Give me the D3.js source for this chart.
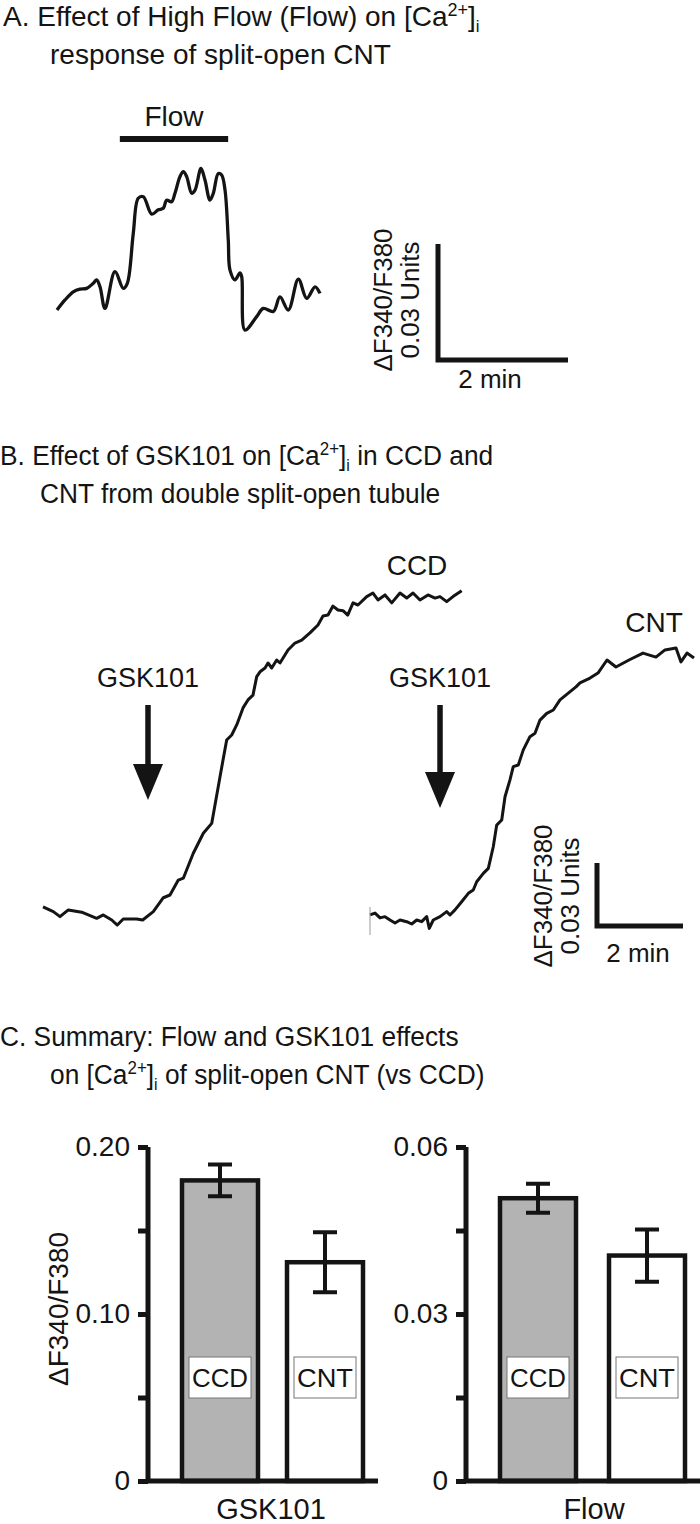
<!DOCTYPE html>
<html>
<head>
<meta charset="utf-8">
<script src="https://cdn.jsdelivr.net/npm/d3@7"></script>
<style>
  body { margin: 0; background: #fff; }
  svg { display: block; font-family: "Liberation Sans", Arial, sans-serif; }
</style>
</head>
<body>
<svg id="fig" width="700" height="1524"></svg>
<script>
// ---- data ----
// Panel A: flow trace, time (s) vs change in F340/F380
var flowTime = [0, 7.4, 15, 21.2, 27.4, 33.5, 36.6, 39.7, 44.3, 53.5, 61.2, 64.9, 70.4, 75, 79.7, 87.4, 93.5, 98.1, 101.2, 105.8,
  108.9, 113.5, 116.6, 119.7, 124.3, 127.4, 132.9, 136.6, 141.2, 144.3, 148.9, 152, 155.1, 158.1, 159.7, 164.3, 168.9, 170.5,
  173.5, 184.3, 190.4, 199.7, 205.8, 213.5, 222.8, 230.5, 238.2, 242.8];
var flowRatio = [0, 0.0026, 0.0047, 0.0054, 0.0056, 0.0069, 0.0078, 0.0060, 0.0004, 0.0099, 0.0056, 0.0069, 0.0198, 0.0289, 0.0293,
  0.0248, 0.0259, 0.0263, 0.0284, 0.0280, 0.0302, 0.0345, 0.0358, 0.0345, 0.0302, 0.0310, 0.0366, 0.0336, 0.0284, 0.0302, 0.0353,
  0.0349, 0.0310, 0.0181, 0.0103, 0.0078, 0.0096, 0.0086, -0.0052, -0.0017, 0.0004, -0.0004, 0.0034, 0.0, 0.0080, 0.0030, 0.0060, 0.0043];
var flowOn = [58, 158];

// Panel B: GSK101 traces
var ccdTime = [0, 14.4, 23.7, 35.3, 54, 74.9, 84.1, 95.9, 103.7, 112, 130.7, 139.1, 153.9, 167.9, 177.2, 188.8, 195.8, 209.7, 223.7,
  235.4, 247, 251.2, 256.3, 263.3, 270.3, 279.1, 286, 293, 298.2, 302.8, 309.8, 314, 319.1, 326.1, 330.7, 341.9, 351.6, 361, 372.5,
  383.7, 390.7, 397.7, 404.6, 411.6, 418.6, 425.2, 432.6, 439.5, 451.7, 460.4, 467.4, 477.2, 486.6, 498.1, 507.5, 516.3, 526, 537.2,
  547, 553.9, 563.3, 572.1, 584.2];
var ccdRatio = [0.0063, 0.0040, 0.0016, 0.0048, 0.0037, 0.0008, 0.0024, 0, -0.0024, 0.0005, 0.0005, 0, 0.0040, 0.0106, 0.0119, 0.0190,
  0.0199, 0.0318, 0.0413, 0.0460, 0.0682, 0.0762, 0.0857, 0.0881, 0.0929, 0.1010, 0.1048, 0.1071, 0.1159, 0.1182, 0.1200, 0.1224,
  0.1200, 0.1238, 0.1224, 0.1286, 0.1319, 0.1333, 0.1367, 0.1405, 0.1448, 0.1452, 0.1495, 0.1476, 0.1473, 0.1452, 0.1510, 0.1500,
  0.1540, 0.1557, 0.1524, 0.1548, 0.1510, 0.1557, 0.1533, 0.1557, 0.1524, 0.1548, 0.1533, 0.1540, 0.1516, 0.1540, 0.1568];
var cntTime = [0, 7, 14, 20.9, 27.9, 34.9, 41.9, 51.2, 58.2, 65.2, 72.1, 79.1, 82.7, 88.3, 97.7, 107, 111.6, 118.6, 127.9, 137.2,
  144.1, 148.9, 158.1, 165.1, 172, 176.8, 183.8, 188.4, 195.3, 199.9, 206.9, 213.9, 223.2, 230.2, 237.2, 246.6, 255.8, 265.1,
  287.4, 293, 307, 318.1, 330.7, 343.2, 361.4, 380.9, 399, 411.6, 427, 433.9, 442.3, 452.1];
var cntRatio = [0.0024, 0.0033, 0.0010, 0.0016, 0, -0.0014, 0, -0.0008, -0.0019, 0, -0.0008, 0.0016, -0.0040, 0, 0.0016, 0.0040,
  0.0024, 0.0048, 0.0087, 0.0127, 0.0143, 0.0182, 0.0222, 0.0246, 0.0349, 0.0452, 0.0476, 0.0587, 0.0667, 0.0730, 0.0738, 0.0810,
  0.0873, 0.0889, 0.0952, 0.0984, 0.1000, 0.1048, 0.1110, 0.1129, 0.1152, 0.1176, 0.1238, 0.1205, 0.1238, 0.1271, 0.1252, 0.1286,
  0.1295, 0.1229, 0.1271, 0.1248];
var gskAddCcd = 146.5, gskAddCnt = 97.7;

// Panel C: summary bars (mean and error)
var segments = ["CCD", "CNT"];
var gskMean = [0.180, 0.131];
var gskErr = [0.0095, 0.018];
var flowMean = [0.0508, 0.0405];
var flowErr = [0.0026, 0.0047];
var gskTicks = [0, 0.05, 0.10, 0.15, 0.20];
var gskTickLabels = ["0", "", "0.10", "", "0.20"];
var flowTicks = [0, 0.015, 0.03, 0.045, 0.06];
var flowTickLabels = ["0", "", "0.03", "", "0.06"];

// ---- drawing ----
var svg = d3.select("#fig");
var ink = "#141414";

function zip(t, v) { return t.map(function(d, i) { return [d, v[i]]; }); }

// text with [Ca2+]i, optionally squeezed a bit horizontally
function caTitle(x, y, sx, before, after) {
  var t = svg.append("text").attr("transform", "translate(" + x + "," + y + ") scale(" + sx + ",1)")
    .attr("font-size", 28).attr("fill", ink);
  t.append("tspan").text(before + "[Ca");
  t.append("tspan").attr("font-size", 18).attr("dy", -10).text("2+");
  t.append("tspan").attr("dy", 10).text("]");
  t.append("tspan").attr("font-size", 17).attr("dy", 6).text("i");
  t.append("tspan").attr("dy", -6).text(after);
  return t;
}
function plainTitle(x, y, sx, s) {
  svg.append("text").attr("transform", "translate(" + x + "," + y + ") scale(" + sx + ",1)")
    .attr("font-size", 28).attr("fill", ink).text(s);
}

function scaleBar(x0, y0, xs, ys, txt) {
  var w = xs(120) - xs(0), h = ys(0) - ys(0.03);
  var g = svg.append("g");
  g.append("path")
    .attr("d", "M" + x0 + "," + (y0 - h) + "V" + y0 + "H" + (x0 + w))
    .attr("fill", "none").attr("stroke", ink).attr("stroke-width", 5);
  g.append("text").attr("transform", "translate(" + txt.dx + "," + txt.cy + ") rotate(-90)")
    .attr("text-anchor", "middle").attr("font-size", 26).attr("fill", ink).text("\u0394F340/F380");
  g.append("text").attr("transform", "translate(" + txt.ux + "," + txt.cy + ") rotate(-90)")
    .attr("text-anchor", "middle").attr("font-size", 26).attr("fill", ink).text("0.03 Units");
  g.append("text").attr("x", txt.mx).attr("y", txt.my)
    .attr("text-anchor", "middle").attr("font-size", 26).attr("fill", ink).text("2 min");
}

// Panel A
caTitle(3, 26, 1, "A. Effect of High Flow (Flow) on ", "");
plainTitle(50, 64, 1, "response of split-open CNT");

var xA = d3.scaleLinear().domain([0, 120]).range([57, 187]);
var yA = d3.scaleLinear().domain([0, 0.03]).range([310, 194]);

svg.append("path").datum(zip(flowTime, flowRatio))
  .attr("d", d3.line().x(function(d) { return xA(d[0]); }).y(function(d) { return yA(d[1]); }).curve(d3.curveCatmullRom))
  .attr("fill", "none").attr("stroke", ink).attr("stroke-width", 3.3).attr("stroke-linejoin", "round");

svg.append("line").attr("x1", xA(flowOn[0])).attr("x2", xA(flowOn[1])).attr("y1", 139).attr("y2", 139)
  .attr("stroke", ink).attr("stroke-width", 6);
svg.append("text").attr("x", xA((flowOn[0] + flowOn[1]) / 2)).attr("y", 126).attr("text-anchor", "middle")
  .attr("font-size", 28).attr("fill", ink).text("Flow");

scaleBar(438, 360, xA, yA, {dx: 392, ux: 419, cy: 300, mx: 490, my: 388});

// Panel B
caTitle(0, 465, 0.94, "B. Effect of GSK101 on ", " in CCD and");
plainTitle(40, 503, 0.94, "CNT from double split-open tubule");

var yB = d3.scaleLinear().domain([0, 0.03]).range([920, 857]);
var xCcd = d3.scaleLinear().domain([0, 120]).range([43, 129]);
var xCnt = d3.scaleLinear().domain([0, 120]).range([370, 456]);

function trace(data, xs) {
  svg.append("path").datum(data)
    .attr("d", d3.line().x(function(d) { return xs(d[0]); }).y(function(d) { return yB(d[1]); }))
    .attr("fill", "none").attr("stroke", ink).attr("stroke-width", 3).attr("stroke-linejoin", "round");
}
trace(zip(ccdTime, ccdRatio), xCcd);
trace(zip(cntTime, cntRatio), xCnt);
svg.append("line").attr("x1", xCnt(0)).attr("x2", xCnt(0)).attr("y1", 907).attr("y2", 935)
  .attr("stroke", "#999").attr("stroke-width", 1);

svg.append("text").attr("x", 417).attr("y", 575).attr("text-anchor", "middle").attr("font-size", 28).attr("fill", ink).text("CCD");
svg.append("text").attr("x", 654).attr("y", 632).attr("text-anchor", "middle").attr("font-size", 28).attr("fill", ink).text("CNT");

function arrow(x, top, tip) {
  svg.append("text").attr("x", x).attr("y", 687).attr("text-anchor", "middle").attr("font-size", 27).attr("fill", ink).text("GSK101");
  svg.append("line").attr("x1", x).attr("x2", x).attr("y1", top).attr("y2", tip - 30)
    .attr("stroke", ink).attr("stroke-width", 5.5);
  svg.append("path").attr("d", "M" + (x - 15) + "," + (tip - 36) + "L" + (x + 15) + "," + (tip - 36) + "L" + x + "," + tip + "Z")
    .attr("fill", ink);
}
arrow(xCcd(gskAddCcd), 705, 800);
arrow(xCnt(gskAddCnt), 705, 808);

scaleBar(597, 926, xCcd, yB, {dx: 552, ux: 579, cy: 896, mx: 638, my: 962});

// Panel C
plainTitle(0, 1046, 0.94, "C. Summary: Flow and GSK101 effects");
caTitle(50, 1084, 0.94, "on ", " of split-open CNT (vs CCD)");

function barPanel(axisX, baseEnd, centers, means, errs, ticks, tickLabels, domainMax, cat, catX) {
  var y = d3.scaleLinear().domain([0, domainMax]).range([1481, 1147]);
  var x = d3.scalePoint().domain(segments).range(centers);
  var g = svg.append("g");
  var barW = 76;

  g.selectAll(".bar").data(segments).enter().append("rect")
    .attr("x", function(d) { return x(d) - barW / 2; })
    .attr("y", function(d, i) { return y(means[i]); })
    .attr("width", barW)
    .attr("height", function(d, i) { return y(0) - y(means[i]); })
    .attr("fill", function(d, i) { return i === 0 ? "#b3b3b3" : "#fff"; })
    .attr("stroke", ink).attr("stroke-width", 4.5);

  g.selectAll(".err").data(segments).enter().append("path")
    .attr("d", function(d, i) {
      var c = x(d), hi = y(means[i] + errs[i]), lo = y(means[i] - errs[i]);
      return "M" + (c - 12) + "," + hi + "H" + (c + 12) + "M" + c + "," + hi + "V" + lo + "M" + (c - 12) + "," + lo + "H" + (c + 12);
    })
    .attr("fill", "none").attr("stroke", ink).attr("stroke-width", 4);

  g.selectAll(".lab").data(segments).enter().append("rect")
    .attr("x", function(d) { return x(d) - 31; }).attr("y", 1357).attr("width", 62).attr("height", 41)
    .attr("fill", "#fff").attr("stroke", "#777").attr("stroke-width", 1);
  g.selectAll(".labt").data(segments).enter().append("text")
    .attr("x", function(d) { return x(d); }).attr("y", 1387).attr("text-anchor", "middle")
    .attr("font-size", 25).attr("fill", ink)
    .attr("textLength", 56).attr("lengthAdjust", "spacingAndGlyphs")
    .text(function(d) { return d; });

  // baseline
  g.append("line").attr("x1", axisX).attr("x2", baseEnd).attr("y1", y(0)).attr("y2", y(0))
    .attr("stroke", ink).attr("stroke-width", 5);

  var axis = d3.axisLeft(y).tickValues(ticks).tickSize(10).tickPadding(8)
    .tickFormat(function(d, i) { return tickLabels[i]; });
  var ag = g.append("g").attr("transform", "translate(" + axisX + ",0)").call(axis);
  ag.select(".domain").attr("d", "M0," + y(domainMax) + "V" + y(0)).attr("stroke", ink).attr("stroke-width", 5);
  ag.selectAll(".tick line").attr("stroke", ink).attr("stroke-width", 5);
  ag.selectAll(".tick text").attr("font-size", 28).attr("font-family", "Liberation Sans, Arial, sans-serif").attr("fill", ink);

  g.append("text").attr("x", catX).attr("y", 1519).attr("text-anchor", "middle").attr("font-size", 29).attr("fill", ink).text(cat);
}

barPanel(148, 378, [220, 325], gskMean, gskErr, gskTicks, gskTickLabels, 0.2, "GSK101", 271);
barPanel(466, 700, [538, 647], flowMean, flowErr, flowTicks, flowTickLabels, 0.06, "Flow", 594);

svg.append("text").attr("transform", "translate(68,1309) rotate(-90)").attr("text-anchor", "middle")
  .attr("font-size", 28).attr("fill", ink).text("\u0394F340/F380");
</script>
</body>
</html>
